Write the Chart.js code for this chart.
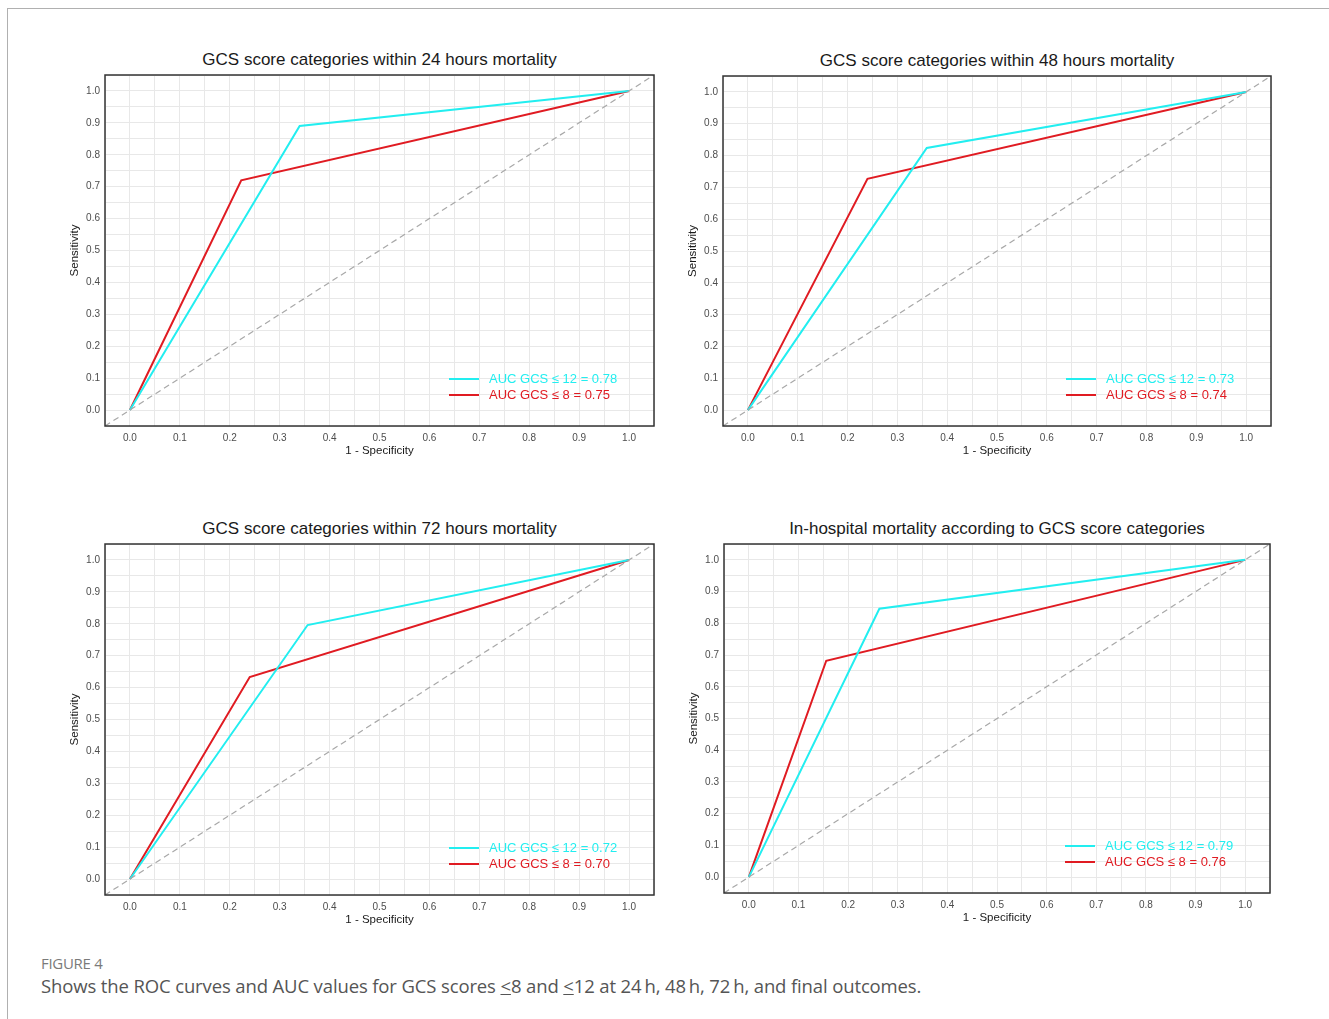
<!DOCTYPE html>
<html>
<head>
<meta charset="utf-8">
<script src="https://cdn.jsdelivr.net/npm/chart.js@4/dist/chart.umd.min.js"></script>
<style>
  body { margin: 0; background: #fff; width: 1329px; height: 1019px; overflow: hidden; position: relative; font-family: "Liberation Sans", Arial, sans-serif; }
  .frame-top { position: absolute; left: 7px; top: 8px; width: 1322px; height: 1px; background: #b0b0b0; }
  .frame-left { position: absolute; left: 7px; top: 8px; width: 1px; height: 1011px; background: #b0b0b0; }
  .panel-title { position: absolute; height: 20px; line-height: 20px; font-size: 17px; color: #1a1a1a; text-align: center; white-space: nowrap; }
  .holder { position: absolute; }
  .leg { position: absolute; font-size: 13px; white-space: nowrap; }
  .leg span.sw { position: absolute; left: 0; top: 7px; width: 30px; height: 2px; }
  .leg span.tx { position: absolute; left: 40px; top: 0; line-height: 16px; }
  .fig { position: absolute; left: 41px; top: 953px; font-family: "Open Sans", sans-serif; font-size: 15px; color: #7a7a7a; letter-spacing: -0.3px; }
  .cap { position: absolute; left: 41px; top: 973px; font-family: "Open Sans", sans-serif; font-size: 18.5px; color: #555; letter-spacing: -0.13px; white-space: nowrap; }
</style>
</head>
<body>
<div class="frame-top"></div>
<div class="frame-left"></div>
<div class="fig">FIGURE 4</div>
<div class="cap">Shows the ROC curves and AUC values for GCS scores <u>&lt;</u>8 and <u>&lt;</u>12 at 24&#8201;h, 48&#8201;h, 72&#8201;h, and final outcomes.</div>

<script>
'use strict';
// titres des quatre panneaux
const panelTitles = [
  'GCS score categories within 24 hours mortality',
  'GCS score categories within 48 hours mortality',
  'GCS score categories within 72 hours mortality',
  'In-hospital mortality according to GCS score categories'
];

// courbes ROC : 1 - specificite / sensibilite
const fpr12 = [[0, 0.340, 1], [0, 0.359, 1], [0, 0.356, 1], [0, 0.263, 1]];
const tpr12 = [[0, 0.890, 1], [0, 0.824, 1], [0, 0.796, 1], [0, 0.846, 1]];
const fpr8  = [[0, 0.223, 1], [0, 0.240, 1], [0, 0.240, 1], [0, 0.156, 1]];
const tpr8  = [[0, 0.720, 1], [0, 0.727, 1], [0, 0.633, 1], [0, 0.682, 1]];

const auc12 = ['0.78', '0.73', '0.72', '0.79'];
const auc8  = ['0.75', '0.74', '0.70', '0.76'];

// graduations (etiquettes tous les 0.1, grille tous les 0.05)
const tickLabels = ['0.0', '0.1', '0.2', '0.3', '0.4', '0.5', '0.6', '0.7', '0.8', '0.9', '1.0'];
const gridTicks = [-0.05, 0, 0.05, 0.1, 0.15, 0.2, 0.25, 0.3, 0.35, 0.4, 0.45, 0.5,
                   0.55, 0.6, 0.65, 0.7, 0.75, 0.8, 0.85, 0.9, 0.95, 1, 1.05];
const axisMin = -0.05;
const axisMax = 1.05;

// position des zones de trace (px)
const boxes = [
  { left: 105, top: 75, width: 549, height: 351 },
  { left: 723, top: 76, width: 548, height: 350 },
  { left: 105, top: 544, width: 549, height: 351 },
  { left: 724, top: 544, width: 546, height: 349 }
];

const CYAN = '#22eef0';
const RED = '#e01b22';
const X_AXIS_H = 39;
const Y_AXIS_W = 45;

function pts(xs, ys) {
  return xs.map((x, i) => ({ x: x, y: ys[i] }));
}

function labelFor(v) {
  const k = Math.round(v * 100);
  if (k < 0 || k % 10 !== 0) return '';
  return tickLabels[k / 10];
}

const boxPlugin = {
  id: 'panelBox',
  afterDraw(chart) {
    const a = chart.chartArea;
    const ctx = chart.ctx;
    ctx.save();
    ctx.strokeStyle = '#333';
    ctx.lineWidth = 1.5;
    ctx.strokeRect(a.left, a.top, a.right - a.left, a.bottom - a.top);
    ctx.restore();
  }
};

function makeAxis(isX) {
  return {
    type: 'linear',
    min: axisMin,
    max: axisMax,
    afterBuildTicks: s => { s.ticks = gridTicks.map(v => ({ value: v })); },
    afterFit: s => { if (isX) s.height = X_AXIS_H; else s.width = Y_AXIS_W; },
    grid: { color: '#e8e8e8', lineWidth: 1, drawTicks: false },
    border: { display: false },
    ticks: {
      callback: v => labelFor(v),
      autoSkip: false,
      maxRotation: 0,
      padding: isX ? 6 : 5,
      color: '#4d4d4d',
      font: { family: 'Liberation Sans', size: 10 }
    },
    title: {
      display: true,
      text: isX ? '1 - Specificity' : 'Sensitivity',
      color: '#1a1a1a',
      font: { family: 'Liberation Sans', size: 11.5 },
      padding: isX ? { top: 0, bottom: 7 } : { top: 8, bottom: 0 }
    }
  };
}

const charts = [];

boxes.forEach((b, i) => {
  // titre
  const t = document.createElement('div');
  t.className = 'panel-title';
  t.style.left = b.left + 'px';
  t.style.width = b.width + 'px';
  t.style.top = (b.top - 25) + 'px';
  t.textContent = panelTitles[i];
  document.body.appendChild(t);

  // canvas
  const h = document.createElement('div');
  h.className = 'holder';
  const cw = b.width + Y_AXIS_W + 11;
  const ch = b.height + X_AXIS_H + 12;
  h.style.left = (b.left - Y_AXIS_W) + 'px';
  h.style.top = (b.top - 12) + 'px';
  h.style.width = cw + 'px';
  h.style.height = (ch + 40) + 'px';
  const c = document.createElement('canvas');
  c.width = cw;
  c.height = ch;
  h.appendChild(c);
  document.body.appendChild(h);

  const chart = new Chart(c.getContext('2d'), {
    type: 'scatter',
    data: {
      datasets: [
        {
          label: 'ref',
          data: pts([axisMin, axisMax], [axisMin, axisMax]),
          showLine: true,
          borderColor: '#a8a8a8',
          borderWidth: 1.2,
          borderDash: [6, 4],
          pointRadius: 0
        },
        {
          label: 'AUC GCS ≤ 12 = ' + auc12[i],
          data: pts(fpr12[i], tpr12[i]),
          showLine: true,
          borderColor: CYAN,
          borderWidth: 2,
          pointRadius: 0
        },
        {
          label: 'AUC GCS ≤ 8 = ' + auc8[i],
          data: pts(fpr8[i], tpr8[i]),
          showLine: true,
          borderColor: RED,
          borderWidth: 2,
          pointRadius: 0
        }
      ]
    },
    options: {
      responsive: false,
      maintainAspectRatio: false,
      animation: false,
      layout: { padding: { top: 0, right: 11, left: 0, bottom: 0 } },
      plugins: { legend: { display: false }, tooltip: { enabled: false } },
      scales: { x: makeAxis(true), y: makeAxis(false) }
    },
    plugins: [boxPlugin]
  });

  // on recale le canvas pour que la zone de trace tombe sur le cadre voulu
  const dy = chart.chartArea.top;
  if (Math.abs(dy - 12) > 0.5) chart.resize(cw, b.height + X_AXIS_H + dy);
  h.style.top = (b.top - chart.chartArea.top) + 'px';
  charts.push(chart);

  // legende dans le coin bas droit
  const rows = [[CYAN, 'AUC GCS ≤ 12 = ' + auc12[i]], [RED, 'AUC GCS ≤ 8 = ' + auc8[i]]];
  rows.forEach((r, j) => {
    const l = document.createElement('div');
    l.className = 'leg';
    l.style.left = (b.left + b.width - 205) + 'px';
    l.style.top = (b.top + b.height - 55 + j * 16) + 'px';
    l.style.color = r[0];
    l.innerHTML = '<span class="sw" style="background:' + r[0] + '"></span><span class="tx"></span>';
    l.querySelector('.tx').textContent = r[1];
    document.body.appendChild(l);
  });
});
</script>
</body>
</html>
